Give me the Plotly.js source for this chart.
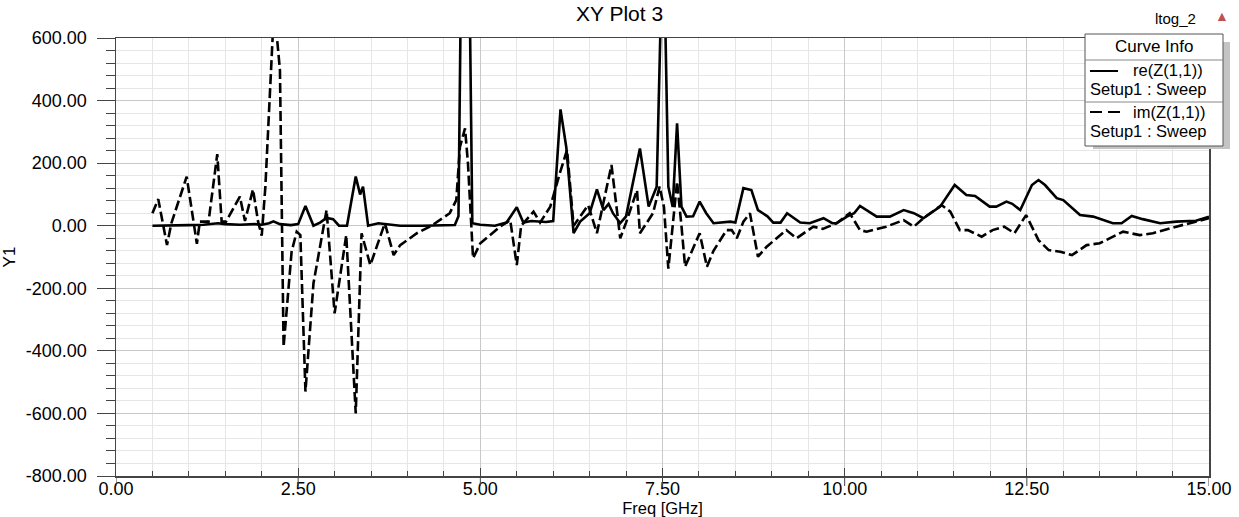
<!DOCTYPE html>
<html>
<head>
<meta charset="utf-8">
<script src="https://cdn.plot.ly/plotly-3.0.1.min.js"></script>
<style>
html,body{margin:0;padding:0;background:#fff;}
#chart{width:1239px;height:517px;}
</style>
</head>
<body>
<div id="chart"></div>
<script>
// ---- data ----
var reFreq = [0.5,0.6,0.8,1.0,1.2,1.3,1.4,1.5,1.7,1.9,2.0,2.1,2.16,2.25,2.4,2.5,2.6,2.71,2.8,2.89,2.98,3.06,3.17,3.29,3.35,3.39,3.46,3.6,3.7,3.9,4.2,4.5,4.65,4.7,4.79,4.89,5.0,5.2,5.36,5.5,5.59,5.7,5.9,6.0,6.1,6.18,6.28,6.37,6.5,6.6,6.69,6.76,6.82,6.92,7.0,7.19,7.31,7.42,7.51,7.58,7.64,7.7,7.76,7.83,7.92,8.01,8.1,8.2,8.43,8.5,8.61,8.72,8.81,8.94,9.02,9.12,9.21,9.39,9.52,9.71,9.83,9.89,10.03,10.13,10.21,10.44,10.62,10.81,10.95,11.08,11.31,11.51,11.67,11.79,11.99,12.08,12.22,12.3,12.41,12.57,12.66,12.75,12.91,13.0,13.23,13.41,13.68,13.8,13.94,14.09,14.33,14.55,14.82,15.0];
var reVals = [0,0,0,2,3,5,8,5,3,5,3,8,14,5,2,5,63,0,10,25,21,0,0,157,100,125,0,8,6,0,0,0,2,30,2000,8,3,0,10,59,10,15,12,15,372,250,-24,13,40,116,50,70,40,8,30,247,61,125,1000,125,60,327,61,29,30,77,40,8,13,10,120,114,50,30,10,10,40,10,8,24,8,8,29,40,63,29,29,50,40,24,61,130,98,95,61,61,77,70,50,130,146,130,88,82,34,29,8,8,31,21,8,13,16,29];

var imFreq = [0.5,0.58,0.7,0.76,0.97,1.11,1.15,1.27,1.39,1.45,1.51,1.56,1.7,1.77,1.88,1.95,2.0,2.05,2.17,2.25,2.3,2.41,2.48,2.53,2.6,2.71,2.89,3.0,3.16,3.29,3.37,3.49,3.69,3.81,3.9,4.13,4.33,4.58,4.67,4.72,4.79,4.83,4.9,5.0,5.27,5.41,5.5,5.56,5.73,5.82,5.96,6.09,6.19,6.28,6.48,6.6,6.8,6.92,7.0,7.15,7.19,7.37,7.46,7.52,7.58,7.64,7.7,7.76,7.81,8.01,8.11,8.2,8.38,8.45,8.52,8.61,8.7,8.81,8.93,9.2,9.34,9.57,9.7,9.89,10.07,10.21,10.3,10.57,10.81,10.95,11.08,11.33,11.45,11.58,11.69,11.88,12.03,12.19,12.33,12.49,12.66,12.8,12.96,13.12,13.32,13.5,13.82,14.05,14.23,14.55,14.82,15.0];
var imVals = [40,85,-62,8,157,-58,13,13,229,13,13,34,93,15,116,13,-32,125,700,497,-387,-83,-19,-30,-530,-184,50,-280,-30,-600,-24,-126,8,-94,-62,-24,0,40,82,252,311,200,-104,-56,-3,18,-126,0,45,10,61,167,242,0,66,-24,194,-40,10,114,-24,40,125,60,-137,0,141,0,-131,-24,-131,-80,-14,-14,-40,13,40,-99,-67,-14,-40,-3,-10,8,40,-14,-19,-3,18,-3,24,66,45,-14,-14,-35,-14,-3,-24,34,-46,-78,-83,-94,-62,-56,-19,-30,-24,-3,13,24];

var xTickVals = [0,2.5,5,7.5,10,12.5,15];
var xTickText = ["0.00","2.50","5.00","7.50","10.00","12.50","15.00"];
var yTickVals = [-800,-600,-400,-200,0,200,400,600];
var yTickText = ["-800.00","-600.00","-400.00","-200.00","0.00","200.00","400.00","600.00"];

var curveNames = ["re(Z(1,1))","im(Z(1,1))"];
var setupName = "Setup1 : Sweep";

// ---- layout helpers (pixel -> paper) ----
var L = 116, R = 1209, T = 38, B = 476;
function px(x){ return (x - L) / (R - L); }
function py(y){ return (B - y) / (B - T); }

var FONT = "Liberation Sans, Arial, sans-serif";

var traces = [
  {x: reFreq, y: reVals, type: 'scatter', mode: 'lines', name: curveNames[0],
   line: {color: '#000', width: 2.6}, cliponaxis: true},
  {x: imFreq, y: imVals, type: 'scatter', mode: 'lines', name: curveNames[1],
   line: {color: '#000', width: 2.6, dash: '10px,4px'}, cliponaxis: true}
];

var shapes = [];
// downward stubs of the major x ticks (they cross the axis line)
xTickVals.forEach(function(v){
  shapes.push({type:'line', xref:'x', yref:'paper', x0:v, x1:v, y0:py(476), y1:py(486),
               line:{color:'#444', width:1}, layer:'above'});
});
shapes = shapes.concat([
  // legend shadow
  {type:'rect', xref:'paper', yref:'paper', x0:px(1093), x1:px(1230), y0:py(149), y1:py(42),
   fillcolor:'#c4c4c4', line:{width:0}, layer:'above'},
  // legend box
  {type:'rect', xref:'paper', yref:'paper', x0:px(1085), x1:px(1223), y0:py(146), y1:py(34),
   fillcolor:'#ffffff', line:{color:'#555', width:1}, layer:'above'},
  {type:'line', xref:'paper', yref:'paper', x0:px(1085), x1:px(1223), y0:py(60), y1:py(60),
   line:{color:'#888', width:1}, layer:'above'},
  {type:'line', xref:'paper', yref:'paper', x0:px(1085), x1:px(1223), y0:py(102), y1:py(102),
   line:{color:'#888', width:1}, layer:'above'},
  // legend samples
  {type:'line', xref:'paper', yref:'paper', x0:px(1090), x1:px(1118), y0:py(71), y1:py(71),
   line:{color:'#000', width:2}, layer:'above'},
  {type:'line', xref:'paper', yref:'paper', x0:px(1090), x1:px(1102), y0:py(112), y1:py(112),
   line:{color:'#000', width:2}, layer:'above'},
  {type:'line', xref:'paper', yref:'paper', x0:px(1108), x1:px(1120), y0:py(112), y1:py(112),
   line:{color:'#000', width:2}, layer:'above'}
]);

var ann = [
  {xref:'paper', yref:'paper', x:px(1154), y:py(47), text:'Curve Info', showarrow:false,
   xanchor:'center', yanchor:'middle', font:{family:FONT, size:17, color:'#000'}},
  {xref:'paper', yref:'paper', x:px(1131), y:py(70), text:curveNames[0], showarrow:false,
   xanchor:'left', yanchor:'middle', font:{family:FONT, size:16.5, color:'#000'}},
  {xref:'paper', yref:'paper', x:px(1088), y:py(89), text:setupName, showarrow:false,
   xanchor:'left', yanchor:'middle', font:{family:FONT, size:16.5, color:'#000'}},
  {xref:'paper', yref:'paper', x:px(1131), y:py(112), text:curveNames[1], showarrow:false,
   xanchor:'left', yanchor:'middle', font:{family:FONT, size:16.5, color:'#000'}},
  {xref:'paper', yref:'paper', x:px(1088), y:py(131), text:setupName, showarrow:false,
   xanchor:'left', yanchor:'middle', font:{family:FONT, size:16.5, color:'#000'}},
  {xref:'paper', yref:'paper', x:px(1175), y:py(19), text:'ltog_2', showarrow:false,
   xanchor:'center', yanchor:'middle', font:{family:FONT, size:15, color:'#000'}},
  {xref:'paper', yref:'paper', x:px(1222), y:py(16), text:'▲', showarrow:false,
   xanchor:'center', yanchor:'middle', font:{family:FONT, size:14, color:'#c0504d'}}
];

var layout = {
  width: 1239, height: 517,
  margin: {l: L, r: 1239 - R, t: T, b: 517 - B, pad: 0},
  paper_bgcolor: '#fff', plot_bgcolor: '#fff',
  showlegend: false,
  title: {text: 'XY Plot 3', x: 0.5, xanchor: 'center', y: 1 - 14/517, yanchor: 'middle',
          font: {family: FONT, size: 21, color: '#000'}},
  font: {family: FONT, color: '#000'},
  xaxis: {
    range: [0, 15], tickmode: 'array', tickvals: xTickVals, ticktext: xTickText,
    showgrid: true, gridcolor: '#c9c9c9', gridwidth: 1,
    showline: true, linecolor: '#444', linewidth: 1.5, mirror: true,
    ticks: 'inside', ticklen: 8, tickcolor: '#444', tickwidth: 1,
    ticklabelstandoff: -4,
    tickfont: {family: FONT, size: 18, color: '#000'},
    minor: {dtick: 0.5, showgrid: true, gridcolor: '#e6e6e6', gridwidth: 1,
            ticks: 'inside', ticklen: 5, tickcolor: '#444'},
    zeroline: false,
    title: {text: 'Freq [GHz]', standoff: 0, font: {family: FONT, size: 16.5, color: '#000'}}
  },
  yaxis: {
    range: [-800, 600], tickmode: 'array', tickvals: yTickVals, ticktext: yTickText,
    showgrid: true, gridcolor: '#c9c9c9', gridwidth: 1,
    showline: true, linecolor: '#444', linewidth: 1.5, mirror: true,
    ticks: 'outside', ticklen: 18, tickcolor: '#444', tickwidth: 1,
    ticklabelstandoff: 6,
    tickfont: {family: FONT, size: 18, color: '#000'},
    minor: {dtick: 40, showgrid: true, gridcolor: '#e6e6e6', gridwidth: 1,
            ticks: 'outside', ticklen: 9, tickcolor: '#444'},
    zeroline: false,
    title: {text: 'Y1', standoff: 8, font: {family: FONT, size: 17, color: '#000'}}
  },
  shapes: shapes,
  annotations: ann
};

Plotly.newPlot('chart', traces, layout, {staticPlot: true, displayModeBar: false});
</script>
</body>
</html>
